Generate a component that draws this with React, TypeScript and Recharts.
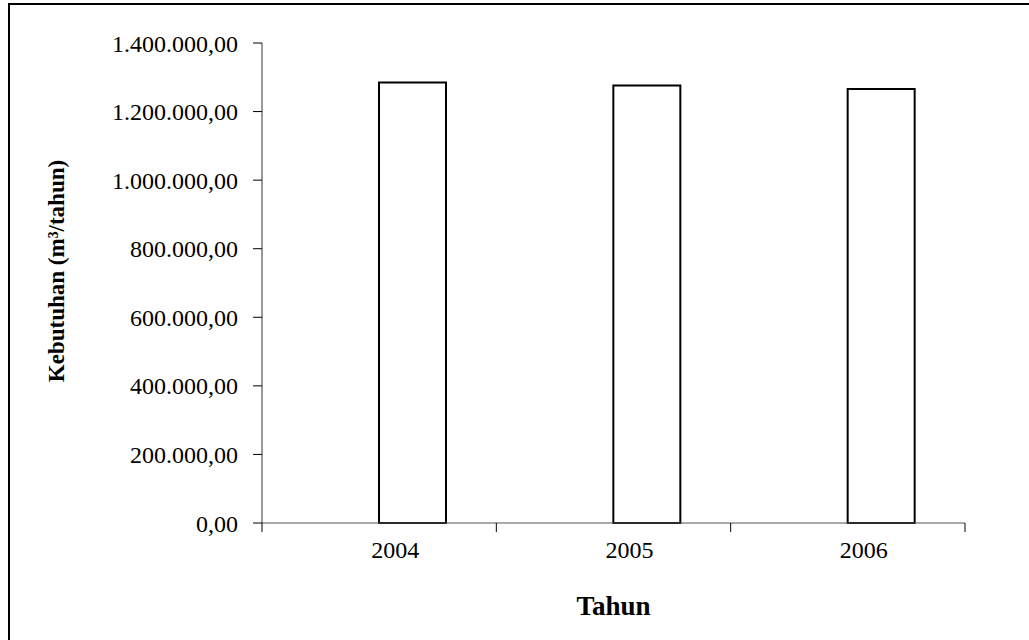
import React from 'react';
import { BarChart, Bar, XAxis, YAxis, Label } from 'recharts';

const years = ['2004', '2005', '2006'];
const kebutuhan = [1285000, 1276000, 1266000];
const yTicks = [0, 200000, 400000, 600000, 800000, 1000000, 1200000, 1400000];

const data = years.map((y, i) => ({ tahun: y, kosong: null, kebutuhan: kebutuhan[i] }));

const FONT = '"Liberation Serif", "Times New Roman", serif';
const W = 1029;
const H = 640;
const M = { top: 43, right: 64, bottom: 0, left: 0 };
const Y_AXIS_W = 262;
const X_AXIS_H = 117;
const AXIS_Y = H - X_AXIS_H;
const BAND = (W - M.right - Y_AXIS_W) / years.length;

const fmt = (v: number) => {
  const s = Math.round(v).toString().replace(/\B(?=(\d{3})+(?!\d))/g, '.');
  return s + ',00';
};

const XTick = (props: any) => {
  const { x, payload, index } = props;
  const left = x - BAND / 2;
  const right = x + BAND / 2;
  return (
    <g>
      <line x1={left} y1={AXIS_Y} x2={left} y2={AXIS_Y + 9} stroke="#000" strokeWidth={1} />
      {index === years.length - 1 && (
        <line x1={right} y1={AXIS_Y} x2={right} y2={AXIS_Y + 9} stroke="#000" strokeWidth={1} />
      )}
      <text x={x + 16} y={AXIS_Y + 35} textAnchor="middle" fontFamily={FONT} fontSize={24} fill="#000">
        {payload.value}
      </text>
    </g>
  );
};

export default function App() {
  return (
    <div style={{ position: 'absolute', left: 0, top: 0, width: W, height: H, overflow: 'hidden', background: '#fff' }}>
      <div
        style={{
          position: 'absolute',
          left: 8,
          top: 3,
          width: W + 20,
          height: H + 20,
          border: '2px solid #000',
          boxSizing: 'border-box',
        }}
      />
      <div style={{ position: 'absolute', left: 0, top: 0 }}>
        <BarChart width={W} height={H} data={data} margin={M} barGap={0} barSize={67} barCategoryGap={0}>
          <XAxis
            dataKey="tahun"
            height={X_AXIS_H}
            tickLine={false}
            axisLine={{ stroke: '#555', strokeWidth: 1 }}
            tick={<XTick />}
            interval={0}
          >
            <Label
              value="Tahun"
              position="insideBottom"
              offset={25}
              style={{ fontFamily: FONT, fontSize: 27, fontWeight: 'bold', fill: '#000' }}
            />
          </XAxis>
          <YAxis
            width={Y_AXIS_W}
            domain={[0, 1400000]}
            ticks={yTicks}
            interval={0}
            tickFormatter={fmt}
            tickSize={9}
            tickMargin={15}
            tickLine={{ stroke: '#000' }}
            axisLine={{ stroke: '#333', strokeWidth: 1 }}
            tick={{ fontFamily: FONT, fontSize: 24, fill: '#000' }}
          >
            <Label
              content={() => (
                <text
                  x={64}
                  y={271}
                  transform="rotate(-90 64 271)"
                  textAnchor="middle"
                  fontFamily={FONT}
                  fontSize={23}
                  fontWeight="bold"
                  fill="#000"
                >
                  Kebutuhan (m³/tahun)
                </text>
              )}
            />
          </YAxis>
          <Bar dataKey="kosong" fill="#fff" stroke="#000" strokeWidth={2} isAnimationActive={false} />
          <Bar dataKey="kebutuhan" fill="#fff" stroke="#000" strokeWidth={2} isAnimationActive={false} />
        </BarChart>
      </div>
    </div>
  );
}
